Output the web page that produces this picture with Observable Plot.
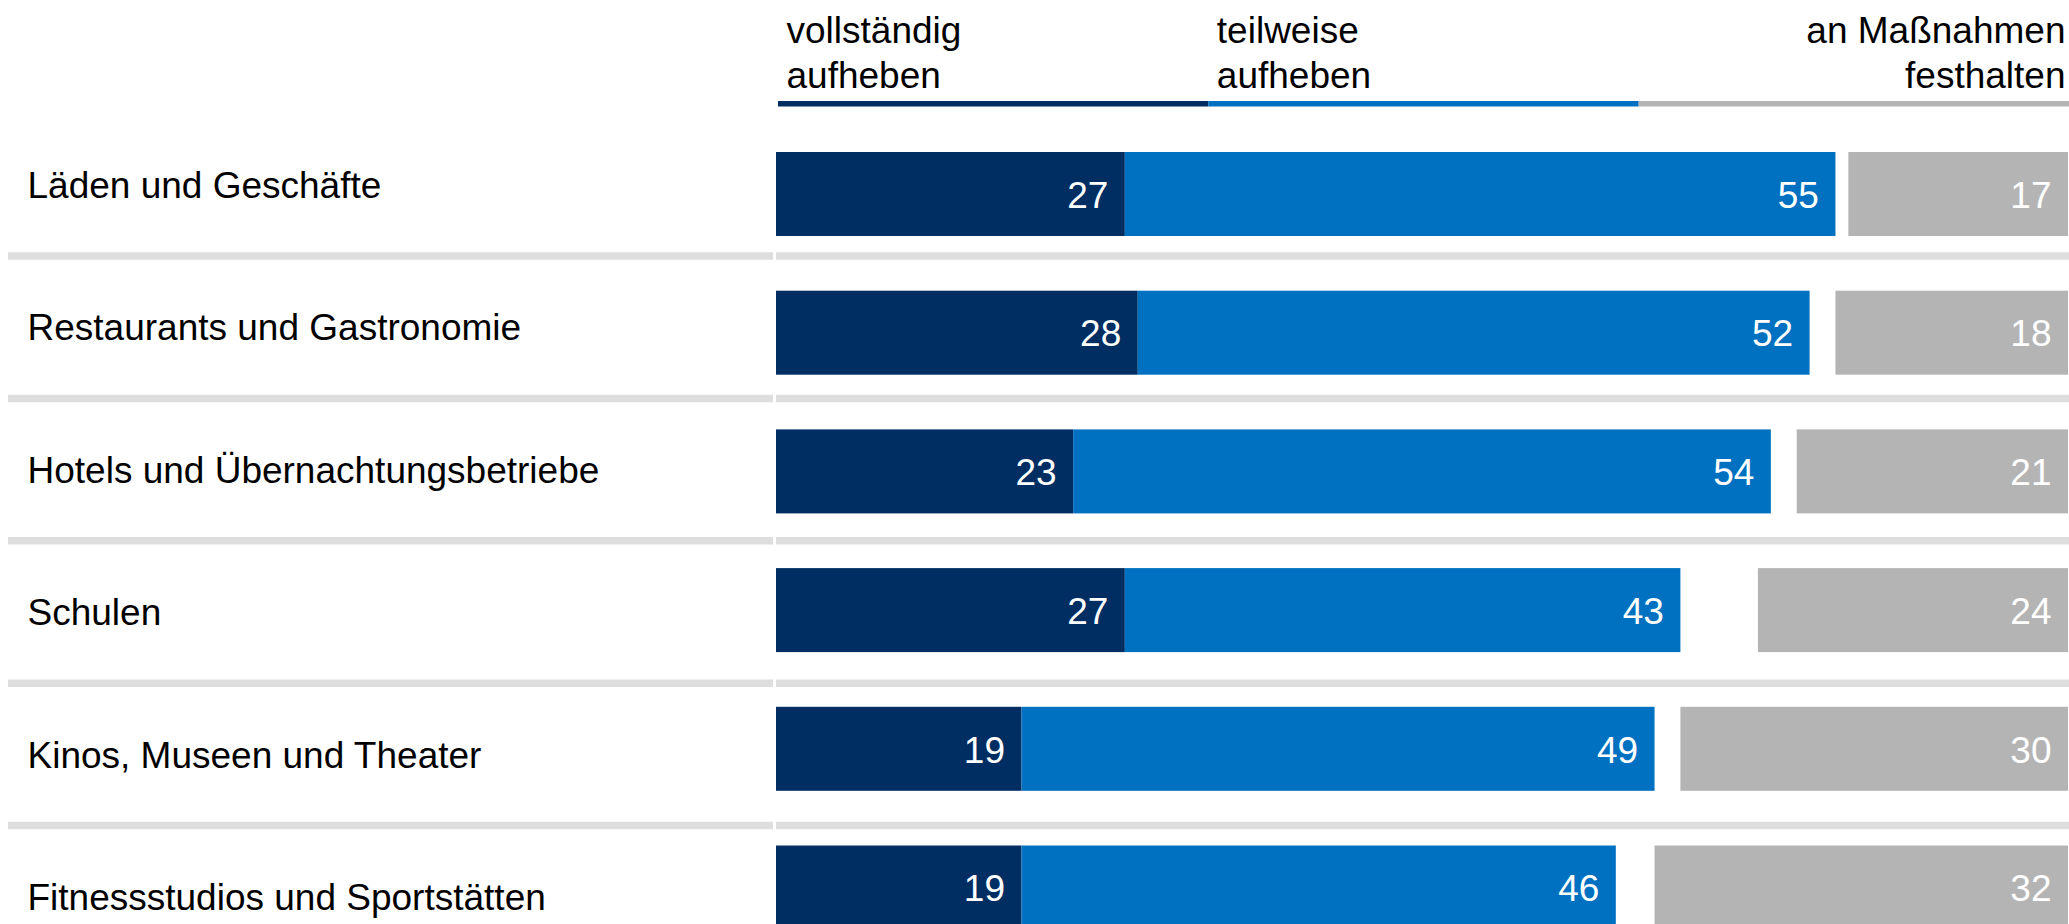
<!DOCTYPE html>
<html>
<head>
<meta charset="utf-8">
<script src="https://cdn.jsdelivr.net/npm/d3@7"></script>
<script src="https://cdn.jsdelivr.net/npm/@observablehq/plot@0.6"></script>
<style>
  html, body { margin: 0; padding: 0; background: #ffffff; width: 2069px; height: 924px; overflow: hidden; }
  #chart { position: relative; width: 2069px; height: 924px; overflow: hidden; background: #ffffff; }
  #chart svg { position: absolute; left: 0; top: 0; max-width: none; }
</style>
</head>
<body>
<div id="chart"></div>
<script>
// ---- data ----
const categories = [
  "Läden und Geschäfte",
  "Restaurants und Gastronomie",
  "Hotels und Übernachtungsbetriebe",
  "Schulen",
  "Kinos, Museen und Theater",
  "Fitnessstudios und Sportstätten"
];
const fullyLift = [27, 28, 23, 27, 19, 19];
const partlyLift = [55, 52, 54, 43, 49, 46];
const keepMeasures = [17, 18, 21, 24, 30, 32];
const seriesKeys = ["vollständig aufheben", "teilweise aufheben", "an Maßnahmen festhalten"];
const seriesLabels = ["vollständig\naufheben", "teilweise\naufheben", "an Maßnahmen\nfesthalten"];
const seriesColors = ["#002d62", "#0070c0", "#b4b4b4"];
const total = 100;

// ---- layout ----
const FONT = "'Liberation Sans', Arial, Helvetica, sans-serif";
const W = 2069, H = 924;
const FS = 37;
const rowStep = 142.4;
const plotLeft = 776, plotRight = 2068;

const segments = categories.flatMap((c, i) => [
  {category: c, series: seriesKeys[0], start: 0, end: fullyLift[i], value: fullyLift[i]},
  {category: c, series: seriesKeys[1], start: fullyLift[i], end: fullyLift[i] + partlyLift[i], value: partlyLift[i]},
  {category: c, series: seriesKeys[2], start: total - keepMeasures[i], end: total, value: keepMeasures[i]}
]);

const baseStyle = {background: "transparent", fontFamily: FONT, overflow: "visible"};

// Header legend
const headerPlot = Plot.plot({
  width: W, height: 107,
  marginTop: 0, marginBottom: 0, marginLeft: 0, marginRight: 0,
  style: baseStyle,
  x: {domain: [0, seriesKeys.length], range: [778, W], axis: null},
  color: {domain: seriesKeys, range: seriesColors},
  marks: [
    Plot.rect(seriesKeys, {x1: (d, i) => i, x2: (d, i) => i + 1, fill: d => d, insetTop: 101, insetBottom: 0.5}),
    Plot.text(seriesLabels.slice(0, 2), {
      x: (d, i) => i, text: d => d, frameAnchor: "top", lineAnchor: "top",
      textAnchor: "start", dx: 8, dy: 10.9, lineHeight: 1.21,
      fontSize: FS, fontFamily: FONT, fill: "#000000"
    }),
    Plot.text(seriesLabels.slice(2), {
      x: () => seriesKeys.length, text: d => d, frameAnchor: "top", lineAnchor: "top",
      textAnchor: "end", dx: -4, dy: 10.9, lineHeight: 1.21,
      fontSize: FS, fontFamily: FONT, fill: "#000000"
    })
  ]
});

// Row labels and separators
const labelsPlot = Plot.plot({
  width: W, height: H,
  marginTop: 0, marginBottom: 0, marginLeft: 8, marginRight: 0,
  style: baseStyle,
  y: {type: "band", domain: categories, range: [114.5, 114.5 + categories.length * rowStep], padding: 0, round: false, axis: null},
  marks: [
    Plot.ruleY(categories.slice(0, -1), {y: d => d, dy: rowStep / 2 - 1.4, stroke: "#dedede", strokeWidth: 7.5, insetRight: W - 773}),
    Plot.ruleY(categories.slice(0, -1), {y: d => d, dy: rowStep / 2 - 1.4, stroke: "#dedede", strokeWidth: 7.5, insetLeft: plotLeft - 8}),
    Plot.text(categories, {
      y: d => d, text: d => d, frameAnchor: "left", textAnchor: "start", dx: 19,
      fontSize: FS, fontFamily: FONT, fill: "#000000"
    })
  ]
});

// Bars
const barsPlot = Plot.plot({
  width: W, height: H,
  marginTop: 0, marginBottom: 0, marginLeft: 0, marginRight: 0,
  style: baseStyle,
  x: {domain: [0, total], range: [plotLeft, plotRight], axis: null},
  y: {type: "band", domain: categories, range: [152, 929.5], paddingInner: 0.3944, paddingOuter: 0, round: false, axis: null},
  color: {domain: seriesKeys, range: seriesColors},
  marks: [
    Plot.barX(segments, {y: "category", x1: "start", x2: "end", fill: "series"}),
    Plot.text(segments, {
      y: "category", x: "end", text: "value", textAnchor: "end", dx: -17, dy: 1.4,
      fontSize: FS, fontFamily: FONT, fill: "#ffffff"
    })
  ]
});

const chart = document.getElementById("chart");
chart.appendChild(labelsPlot);
chart.appendChild(barsPlot);
chart.appendChild(headerPlot);
</script>
</body>
</html>
